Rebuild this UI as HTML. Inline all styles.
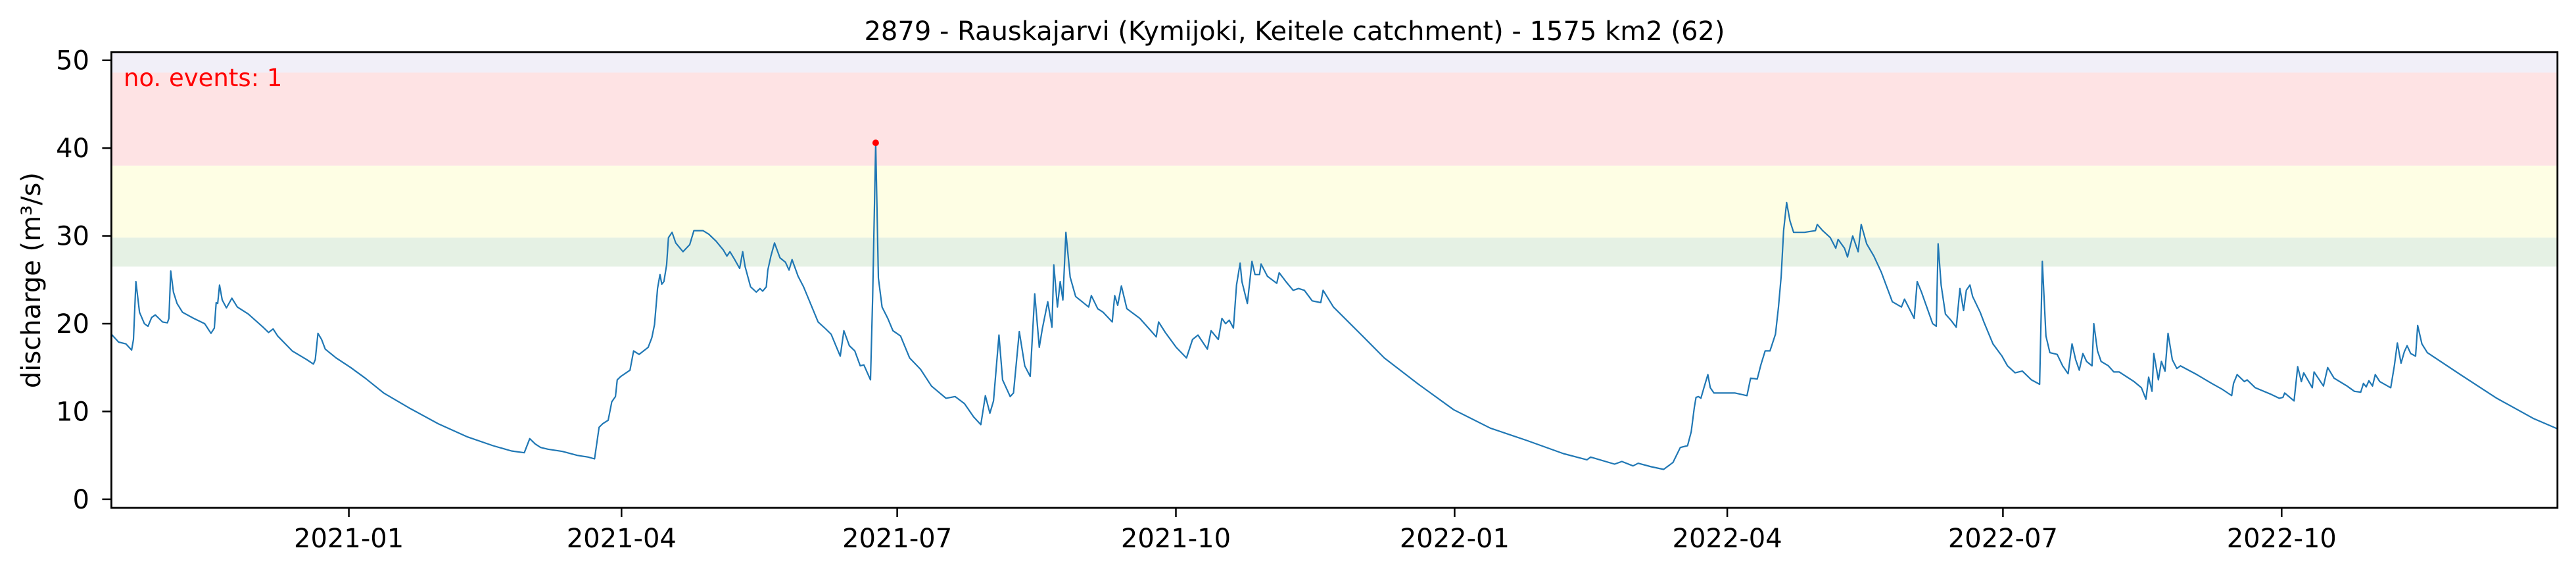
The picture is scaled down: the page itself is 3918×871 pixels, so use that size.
<!DOCTYPE html>
<html><head><meta charset="utf-8"><style>
html,body{margin:0;padding:0;background:#fff}
svg{display:block}
text{font-family:"DejaVu Sans","Liberation Sans",sans-serif}
</style></head><body>
<svg id="chart" width="3918" height="871" viewBox="0 0 3918 871" xmlns="http://www.w3.org/2000/svg">
<text x="1969" y="61" font-size="40" text-anchor="middle" fill="#000">2879 - Rauskajarvi (Kymijoki, Keitele catchment) - 1575 km2 (62)</text>
<g id="bands"></g>
<g id="series"></g>
<g id="axes"></g>
<text x="188" y="131" font-size="37" fill="#ff0000">no. events: 1</text>
<text transform="translate(61,426) rotate(-90)" font-size="40" text-anchor="middle" fill="#000">discharge (m³/s)</text>
</svg>
<script>
// day offsets relative to 2021-01-01
const dayOffsets = [-78.4,-76,-73.6,-71.7,-71.1,-70.3,-69.1,-67.5,-66.3,-65.1,-63.9,-62.7,-61.5,-59.9,-59.4,-58.8,-57.9,-56.7,-54.9,-51.2,-47.6,-45.5,-44.4,-43.8,-43.3,-42.7,-41.8,-40.4,-38.6,-36.8,-33.2,-28.3,-26.5,-25,-23.5,-18.7,-13.9,-11.7,-11.1,-10.2,-9,-7.8,-4.2,0.6,5.4,11.5,19.9,29.5,39.2,47.6,53.7,57.9,59.7,61.5,63.3,65.7,70.5,75.4,79,81.1,82.6,83.8,85.6,86.8,88,88.6,89.8,92.8,94,95.8,98.8,100,100.9,101.9,102.7,103.3,104,104.9,105.5,106.7,107.9,110.3,112.5,113.9,116.9,118.8,121.2,123.6,124.8,125.8,127.2,129,130,130.8,132.6,134.5,135.7,136.6,137.8,138.3,139.3,140.5,142.3,144.1,145.3,146.3,148.3,150.1,151.9,154.9,157.4,159.2,161,162.2,163.4,165.2,167,168.8,170,172.2,172.9,173.9,174.8,176,177.9,179.6,182.1,185.1,188.7,192.3,197.1,200.1,203.2,206.2,208.6,210.1,211.6,212.8,214.6,215.8,218.3,219.4,221.3,223.1,224.9,226.4,227.9,228.9,230.7,232.1,232.7,233.9,234.8,235.7,236.7,238.1,239.9,244.2,245.1,247.2,249,252,252.8,253.8,255,256.8,261.1,266.5,267.3,269.5,273.1,276.5,278.5,280.3,283.4,284.6,287,288.2,289.4,290.6,292,293,294.2,294.8,296.6,298.1,299.1,300.6,301.1,303.2,306.3,307.1,309.3,311.7,313.5,315.4,318,320.8,321.6,325,334.6,341.8,352.7,364.7,376.8,388.8,400.9,408.7,409.9,417.8,420.2,423.9,425.6,429.9,434,437.1,439.5,441.9,443.1,444.1,444.7,445.5,446.3,447.3,448.6,449.4,450.6,454,457.6,461.5,462.7,464.9,466.1,467.5,469.1,470.9,471.9,472.8,473.6,474.6,475.7,476.9,480.5,484.1,484.7,486.5,489,490.8,491.6,493.7,494.7,496.4,498.2,499.2,501,503.4,505.8,509.5,512.5,513.5,516.7,517.7,519.1,522.8,524,524.6,525.6,527,528.8,530.6,531.8,533,533.9,535.1,536,538.5,539.7,542.7,545.7,547.5,550,552.4,555.4,558.1,559,560.2,561.5,563.9,565.7,567.5,568.8,570,571.2,572.4,573.6,575.4,576,577.2,578.4,580.8,582.6,584.4,589.3,591.7,593.2,594.1,595.2,595.8,597.3,598.3,599.5,600.5,601.9,603.4,604.6,610,614.9,618.5,621.5,622.1,623.3,625.7,626.6,629.3,634.2,637.2,638.4,639,642.1,643.3,644.5,645.3,648.1,648.7,651.8,653.2,655.3,659.6,662,664.1,665,665.9,666.8,668,668.9,670.4,674,675.2,676.2,677.4,678.5,679.4,680.6,682.2,682.9,684.3,686.1,697,709,721.1,729.2];
const discharge = [18.8,17.9,17.7,17.0,18.2,24.8,21.3,20.0,19.7,20.7,21.0,20.6,20.2,20.1,20.6,26.0,23.6,22.3,21.3,20.6,20.0,18.9,19.5,22.4,22.3,24.4,22.7,21.8,22.9,21.9,21.1,19.6,19.0,19.4,18.6,16.9,15.9,15.4,15.9,18.9,18.2,17.1,16.1,15.0,13.8,12.1,10.4,8.6,7.1,6.1,5.5,5.3,6.9,6.3,5.9,5.7,5.45,5.0,4.8,4.6,8.2,8.6,9.0,11.1,11.7,13.6,14.0,14.7,16.9,16.5,17.3,18.4,19.9,24.0,25.6,24.5,24.8,26.7,29.8,30.4,29.2,28.2,29.0,30.6,30.6,30.2,29.4,28.4,27.7,28.2,27.4,26.3,28.2,26.5,24.2,23.6,24.0,23.7,24.2,26.1,27.7,29.2,27.5,27.0,26.1,27.3,25.4,24.2,22.7,20.2,19.4,18.8,17.3,16.3,19.2,17.5,16.9,15.2,15.3,13.6,23.1,40.6,25.2,21.9,20.6,19.2,18.6,16.1,14.8,12.9,11.5,11.7,10.9,9.4,8.5,11.8,9.8,11.2,18.7,13.6,11.7,12.1,19.1,15.2,14.0,23.4,17.3,19.4,22.5,19.6,26.7,21.9,24.8,22.7,30.4,25.3,23.1,21.9,23.2,21.7,21.3,20.2,23.2,22.1,24.3,21.7,20.6,18.5,20.2,19.0,17.3,16.1,18.2,18.7,17.1,19.2,18.2,20.6,20.0,20.4,19.5,24.4,26.9,24.8,22.3,27.1,25.6,25.6,26.8,25.4,24.6,25.8,24.8,23.8,24.0,23.8,22.6,22.4,23.8,21.9,18.6,16.1,13.2,10.2,8.1,6.7,5.2,4.5,4.8,4.0,4.3,3.8,4.1,3.7,3.4,4.2,5.9,6.1,7.7,10.4,11.6,11.7,11.5,12.7,14.2,12.7,12.1,12.1,12.1,11.8,13.8,13.7,15.3,16.9,16.9,18.8,21.9,25.4,30.6,33.8,31.7,30.4,30.4,30.6,31.3,30.6,29.8,28.6,29.6,28.6,27.6,30.0,28.2,31.3,29.1,27.7,25.9,22.5,21.9,22.8,20.6,24.8,23.6,20.0,19.7,29.1,24.4,21.1,20.4,19.6,24.0,21.5,23.8,24.4,23.1,21.3,20.2,17.7,16.3,15.2,14.4,14.6,13.6,13.1,27.1,18.6,16.7,16.5,15.2,14.3,17.7,15.9,14.7,16.6,15.7,15.2,20.0,16.9,15.7,15.2,14.5,14.5,13.4,12.7,11.4,13.9,12.3,16.6,13.6,15.7,14.6,18.9,15.9,14.9,15.2,14.2,13.2,12.5,11.8,13.2,14.2,13.4,13.6,12.7,12.0,11.5,11.6,12.1,11.2,15.1,13.4,14.4,12.7,14.5,12.9,15.0,13.8,12.9,12.3,12.2,13.2,12.8,13.5,12.9,14.2,13.4,12.7,15.2,17.8,15.5,16.8,17.5,16.6,16.3,19.8,17.7,16.7,14.2,11.5,9.2,8.0];
const eventDays = [173.9];
const eventValues = [40.6];
const bandNames = ["band-extreme","band-high","band-moderate","band-low"];
const bandLows = [48.6, 38.0, 29.8, 26.5];
const bandHighs = [60, 48.6, 38.0, 29.8];
const yTicks = [0,10,20,30,40,50];
const xTickDays = [0,90,181,273,365,455,546,638];
const xTickLabels = ["2021-01","2021-04","2021-07","2021-10","2022-01","2022-04","2022-07","2022-10"];

const NS="http://www.w3.org/2000/svg";
const L=169.4,R=3889.8,T=79.4,B=772;
const X0=530.6, PXD=4.6077;
const Y0=758.9, PXV=13.344;
const xS=d=>X0+d*PXD;
const yS=v=>Y0-v*PXV;
function mk(tag,attrs,parent){const e=document.createElementNS(NS,tag);for(const k in attrs)e.setAttribute(k,attrs[k]);parent.appendChild(e);return e;}
const bandColors=["#f1eff8","#fee3e4","#fefee4","#e5f1e4"];
const gB=document.getElementById('bands');
for(let i=0;i<bandLows.length;i++){
  const top=Math.max(T,yS(bandHighs[i])),bot=yS(bandLows[i]);
  const r=mk('rect',{x:L,y:top,width:R-L,height:bot-top,fill:bandColors[i]},gB);
  
  
}
const gS=document.getElementById('series');
let d='';
for(let i=0;i<dayOffsets.length;i++){d+=(i?'L':'M')+xS(dayOffsets[i]).toFixed(1)+','+yS(discharge[i]).toFixed(1);}
const p=mk('path',{d:d,fill:'none',stroke:'#1f77b4','stroke-width':2.2,'stroke-linejoin':'round'},gS);


for(let i=0;i<eventDays.length;i++){
  const c=mk('circle',{cx:xS(eventDays[i]),cy:yS(eventValues[i]),r:5,fill:'#ff0000'},gS);
  
  
}
const gA=document.getElementById('axes');
const fr=mk('rect',{x:L,y:T,width:R-L,height:B-T,fill:'none',stroke:'#000','stroke-width':2.8},gA);


yTicks.forEach(v=>{
  const y=yS(v);
  const t=mk('line',{x1:L-14,x2:L,y1:y,y2:y,stroke:'#000','stroke-width':2.5},gA);
  
  
  const tx=mk('text',{x:136,y:y+14,'font-size':40,'text-anchor':'end',fill:'#000'},gA);
  tx.textContent=v;
  
  
});
xTickDays.forEach((dd,i)=>{
  const x=xS(dd);
  const t=mk('line',{x1:x,x2:x,y1:B,y2:B+14,stroke:'#000','stroke-width':2.5},gA);
  
  
  const tx=mk('text',{x:x,y:832,'font-size':40,'text-anchor':'middle',fill:'#000'},gA);
  tx.textContent=xTickLabels[i];
  
  
});
</script>
</body></html>
